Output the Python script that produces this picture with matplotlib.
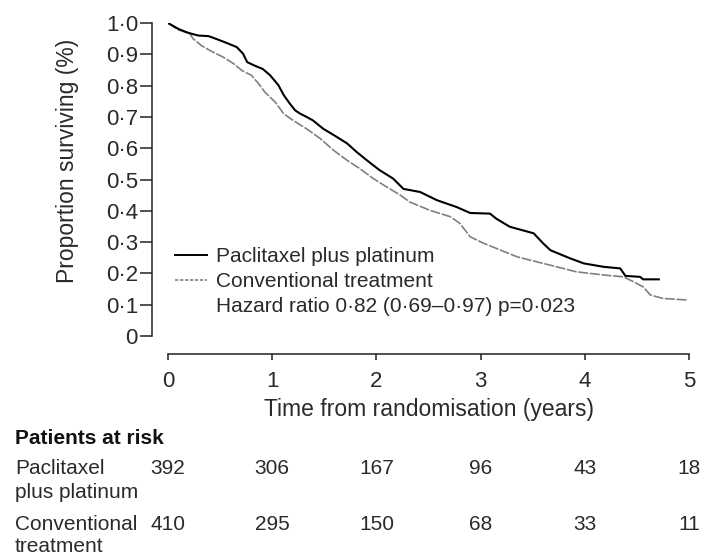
import matplotlib
matplotlib.use("Agg")
import matplotlib.pyplot as plt
from matplotlib.lines import Line2D
import matplotlib.transforms as mtransforms

plt.rcParams['font.family'] = ['Liberation Sans', 'DejaVu Sans']

# ---- data ----
pac_t = [0, 0.10, 0.19, 0.29, 0.39, 0.48, 0.58, 0.66, 0.72, 0.76, 0.83, 0.91, 0.98,
         1.06, 1.11, 1.17, 1.22, 1.27, 1.33, 1.39, 1.49, 1.62, 1.72, 1.81, 1.91,
         2.03, 2.16, 2.26, 2.42, 2.58, 2.77, 2.90, 3.09, 3.15, 3.28, 3.51, 3.60,
         3.67, 3.86, 3.99, 4.18, 4.34, 4.39, 4.53, 4.56, 4.71]
pac_s = [1.0, 0.981, 0.969, 0.960, 0.958, 0.947, 0.934, 0.923, 0.902, 0.875, 0.864,
         0.853, 0.833, 0.801, 0.770, 0.742, 0.721, 0.710, 0.700, 0.689, 0.662, 0.636,
         0.615, 0.588, 0.561, 0.530, 0.503, 0.470, 0.460, 0.434, 0.412, 0.393, 0.391,
         0.375, 0.349, 0.328, 0.296, 0.274, 0.248, 0.232, 0.221, 0.216, 0.192, 0.189,
         0.181, 0.181]

con_t = [0, 0.10, 0.21, 0.24, 0.32, 0.42, 0.53, 0.63, 0.71, 0.80, 0.87, 0.93, 1.03,
         1.11, 1.20, 1.33, 1.46, 1.59, 1.72, 1.84, 1.97, 2.10, 2.23, 2.32, 2.51,
         2.71, 2.80, 2.90, 3.03, 3.15, 3.35, 3.54, 3.73, 3.92, 4.18, 4.37, 4.47,
         4.56, 4.63, 4.75, 4.98]
con_s = [1.0, 0.978, 0.966, 0.950, 0.928, 0.909, 0.891, 0.870, 0.848, 0.833, 0.806,
         0.779, 0.747, 0.710, 0.689, 0.662, 0.631, 0.593, 0.561, 0.535, 0.503, 0.476,
         0.450, 0.428, 0.402, 0.381, 0.360, 0.317, 0.296, 0.280, 0.253, 0.237, 0.221,
         0.205, 0.195, 0.189, 0.173, 0.157, 0.131, 0.120, 0.115]

x_ticks = [0, 1, 2, 3, 4, 5]
y_ticks = [0.0, 0.1, 0.2, 0.3, 0.4, 0.5, 0.6, 0.7, 0.8, 0.9, 1.0]
y_tick_labels = ['0', '0·1', '0·2', '0·3', '0·4', '0·5', '0·6', '0·7', '0·8', '0·9', '1·0']

risk_times = [0, 1, 2, 3, 4, 5]
risk_pac = [392, 306, 167, 96, 43, 18]
risk_con = [410, 295, 150, 68, 33, 11]

label_pac = 'Paclitaxel plus platinum'
label_con = 'Conventional treatment'
label_hr = 'Hazard ratio 0·82 (0·69–0·97) p=0·023'

TXT = '#2a2a2a'
GRAY = '#808080'

# ---- figure ----
W, H = 706, 559
fig = plt.figure(figsize=(W / 100, H / 100), dpi=100)

def fx(px):
    return px / W

def fy(py):
    return 1 - py / H

ax_left, ax_right, ax_top, ax_bot = 168, 689, 23, 336
ax = fig.add_axes([fx(ax_left), fy(ax_bot), (ax_right - ax_left) / W, (ax_bot - ax_top) / H])

ax.plot(con_t, con_s, color=GRAY, lw=1.2, linestyle=(0, (6, 1)))
ax.plot(pac_t, pac_s, color='black', lw=1.5)

ax.set_xlim(0, 5)
ax.set_ylim(0, 1)

for s in ['top', 'right']:
    ax.spines[s].set_visible(False)
ax.spines['left'].set_position(('outward', 11.5))
ax.spines['bottom'].set_position(('outward', 13))
ax.spines['left'].set_bounds(0, 1)
ax.spines['bottom'].set_bounds(0, 5)
for s in ['left', 'bottom']:
    ax.spines[s].set_linewidth(1.1)
    ax.spines[s].set_color('#222222')

ax.set_xticks(x_ticks)
ax.set_xticklabels([str(v) for v in x_ticks])
ax.set_yticks(y_ticks)
ax.set_yticklabels(y_tick_labels)
ax.tick_params(axis='y', direction='out', length=8.6, width=1.1, pad=1.5,
               labelsize=16, colors='#222222', labelcolor=TXT)
ax.tick_params(axis='x', direction='out', length=4.3, width=1.1, pad=8,
               labelsize=16, colors='#222222', labelcolor=TXT)

ax.set_ylabel('Proportion surviving (%)', fontsize=16.5, color=TXT, va='center')
ax.yaxis.set_label_coords(-0.192, 0.561)
ax.set_xlabel('Time from randomisation (years)', fontsize=16.5, color=TXT, va='center')
ax.xaxis.set_label_coords(0.5, -0.236)

handles = [Line2D([], [], color='black', lw=1.4),
           Line2D([], [], color=GRAY, lw=1.2, linestyle=(0, (2, 1))),
           Line2D([], [], color='none')]
leg = ax.legend(handles, [label_pac, label_con, label_hr], loc='upper left',
                bbox_to_anchor=(0.0134, 0.283), frameon=False, fontsize=15,
                handlelength=1.53, handletextpad=0.43, borderpad=0, borderaxespad=0,
                labelspacing=0.27)
for t in leg.get_texts():
    t.set_color(TXT)

# ---- patients at risk table ----
fig.text(fx(15), fy(438), 'Patients at risk', fontsize=15, fontweight='bold',
         va='center', ha='left', color='#111111')
fig.text(fx(15), fy(468), 'Paclitaxel', fontsize=15, va='center', ha='left', color=TXT)
fig.text(fx(15), fy(492), 'plus platinum', fontsize=15, va='center', ha='left', color=TXT)
fig.text(fx(15), fy(524), 'Conventional', fontsize=15, va='center', ha='left', color=TXT)
fig.text(fx(15), fy(547), 'treatment', fontsize=15, va='center', ha='left', color=TXT)

trans = mtransforms.blended_transform_factory(ax.transData, fig.transFigure)
for t, n in zip(risk_times, risk_pac):
    ax.text(t, fy(468), str(n), transform=trans, fontsize=15, ha='center', va='center',
            color=TXT, clip_on=False)
for t, n in zip(risk_times, risk_con):
    ax.text(t, fy(524), str(n), transform=trans, fontsize=15, ha='center', va='center',
            color=TXT, clip_on=False)

fig.savefig('out.png', dpi=100)
